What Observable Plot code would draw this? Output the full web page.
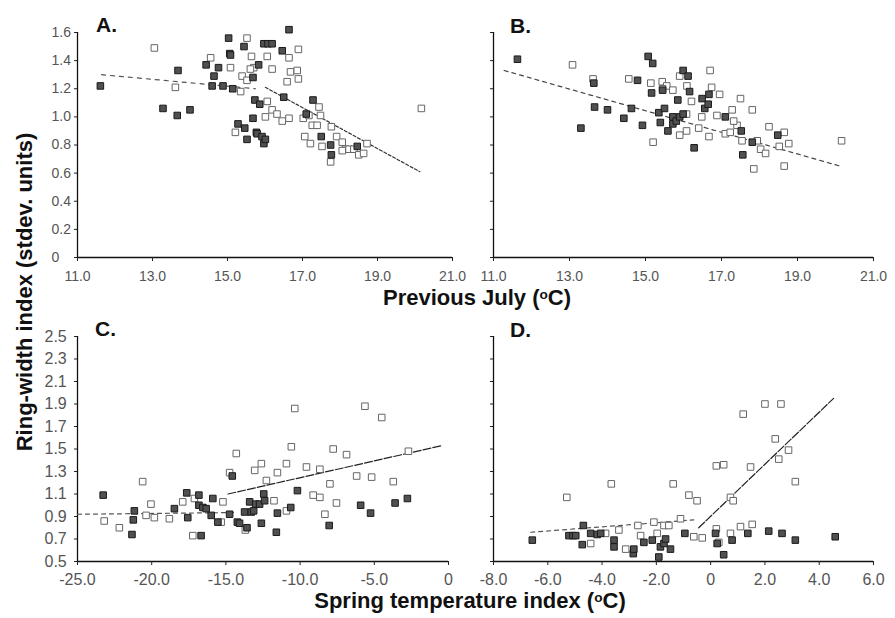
<!DOCTYPE html>
<html><head><meta charset="utf-8">
<script src="https://cdn.jsdelivr.net/npm/d3@7"></script>
<script src="https://cdn.jsdelivr.net/npm/@observablehq/plot@0.6"></script>
<style>
body{margin:0;background:#fff;}
#wrap{position:relative;width:895px;height:618px;overflow:hidden;background:#fff;font-family:"Liberation Sans",Arial,sans-serif;}
#wrap svg{position:absolute;}
.t{position:absolute;font-weight:bold;color:#111;white-space:nowrap;line-height:1;font-family:"Liberation Sans",Arial,sans-serif;}
.t sup{font-size:0.62em;vertical-align:0.45em;line-height:0;}
</style></head><body><div id="wrap"></div>
<script>
// ---------- Panel A: previous July (group 1 filled, group 2 open) ----------
const aFilledX = [11.61,13.68,13.28,13.66,14.00,14.43,14.64,14.59,14.76,14.88,15.03,15.06,15.08,15.14,15.28,15.44,15.46,15.52,15.68,15.68,15.73,15.77,15.86,15.79,15.92,15.97,16.01,15.97,16.08,16.19,15.83,16.50,16.46,16.64,17.28,17.10,17.50,17.75,17.77,18.46];
const aFilledY = [1.22,1.33,1.06,1.01,1.05,1.37,1.29,1.22,1.35,1.22,1.56,1.45,1.44,1.20,0.95,1.50,0.92,0.84,0.99,1.28,1.12,0.89,1.09,0.88,0.86,0.81,0.84,1.52,1.52,1.52,1.37,1.14,1.47,1.62,1.12,1.02,0.86,0.80,0.73,0.79];
const aOpenX = [13.05,13.61,14.55,15.08,15.52,15.39,15.52,15.35,15.21,15.64,15.70,15.61,16.06,16.19,16.06,16.01,16.19,16.32,16.46,16.64,16.59,16.68,16.86,16.89,16.89,16.64,17.02,17.17,17.26,17.39,17.44,17.48,17.06,17.21,17.52,17.77,17.75,17.91,18.06,18.15,18.24,18.06,18.37,18.50,18.63,18.72,20.17];
const aOpenY = [1.49,1.21,1.42,1.35,1.56,1.29,1.26,1.18,0.89,1.43,1.35,1.34,1.43,1.34,1.11,1.00,1.05,1.02,0.97,0.99,1.25,1.32,1.33,1.48,1.27,1.42,0.99,1.01,0.94,0.94,1.07,1.01,0.86,0.81,0.79,0.93,0.68,0.86,0.82,0.77,0.77,0.76,0.77,0.73,0.74,0.81,1.06];
const aLine1X = [11.64, 15.75], aLine1Y = [1.30, 1.20];
const aLine2X = [16.01, 20.13], aLine2Y = [1.21, 0.61];

// ---------- Panel B ----------
const bFilledX = [11.63,13.30,13.66,14.00,13.64,14.43,14.63,14.79,14.92,15.07,15.19,15.16,15.35,15.39,15.50,15.45,15.59,15.72,15.72,15.81,15.85,15.90,15.99,15.99,16.12,16.16,16.28,16.49,16.56,16.67,16.65,17.10,17.56,17.52,17.81,18.48];
const bFilledY = [1.41,0.92,1.07,1.05,1.24,0.99,1.06,1.26,0.94,1.43,1.38,1.17,1.03,0.96,1.06,1.19,0.90,1.00,0.95,0.97,1.12,1.00,1.02,1.33,1.29,1.18,0.78,1.13,1.06,1.16,1.09,1.00,0.73,0.90,0.82,0.87];
const bOpenX = [13.08,13.62,14.56,15.14,15.20,15.44,15.56,15.45,15.72,15.90,16.09,16.21,16.08,16.08,15.90,16.48,16.70,16.74,16.95,16.67,16.40,16.88,17.28,17.50,17.81,17.10,17.23,17.41,17.54,17.94,17.85,18.03,18.16,18.25,18.52,18.65,18.77,18.65,20.16,17.32];
const bOpenY = [1.37,1.27,1.27,1.24,0.82,1.25,1.22,1.20,1.19,1.29,1.22,1.11,1.02,0.90,0.87,1.00,1.33,1.21,1.16,0.86,0.92,1.01,1.05,1.13,1.05,0.88,0.89,0.94,0.83,0.83,0.63,0.77,0.74,0.93,0.79,0.65,0.81,0.89,0.83,0.97];
const bLineX = [11.28, 20.12], bLineY = [1.33, 0.65];

// ---------- Panel C: spring temperature index ----------
const cFilledX = [-23.27,-21.17,-21.24,-21.33,-18.47,-17.64,-17.57,-16.82,-16.82,-16.67,-16.55,-16.33,-15.88,-15.99,-15.54,-14.57,-14.75,-14.23,-14.08,-13.74,-13.58,-13.40,-13.29,-13.13,-12.99,-12.73,-12.61,-12.45,-12.39,-11.53,-11.60,-10.63,-10.18,-8.04,-5.92,-5.25,-3.60,-2.77];
const cFilledY = [1.09,0.95,0.87,0.74,0.97,1.11,0.89,1.09,1.00,0.73,0.98,0.97,1.06,0.91,0.85,1.26,0.92,0.85,0.84,0.94,0.80,1.03,0.94,0.95,1.01,1.01,0.84,1.10,1.04,0.93,0.76,0.98,1.13,0.82,1.00,0.93,1.02,1.06];
const cOpenX = [-23.20,-22.18,-20.61,-20.05,-20.38,-19.82,-18.81,-17.91,-17.23,-17.12,-15.32,-15.20,-14.75,-14.30,-13.69,-12.61,-13.06,-12.27,-11.76,-11.53,-10.92,-10.92,-10.59,-10.36,-9.57,-9.12,-8.67,-8.67,-7.99,-7.77,-8.33,-7.55,-6.87,-6.19,-5.63,-5.18,-4.50,-3.72,-2.70];
const cOpenY = [0.86,0.80,1.21,1.01,0.91,0.89,0.88,1.03,0.73,1.06,0.85,1.03,1.29,1.46,0.78,1.37,1.31,1.22,1.04,1.29,1.37,0.95,1.52,1.86,1.34,1.09,1.32,1.07,1.19,1.50,0.92,1.02,1.45,1.26,1.88,1.25,1.78,1.21,1.48];
const cLine1X = [-25.0, -14.4], cLine1Y = [0.92, 0.935];
const cLine2X = [-14.86, -0.45], cLine2Y = [1.10, 1.53];

// ---------- Panel D ----------
const dFilledX = [-6.57,-5.22,-5.07,-4.97,-4.69,-4.73,-4.42,-4.18,-4.05,-3.56,-3.56,-2.85,-2.83,-2.46,-2.15,-1.91,-1.85,-1.72,-1.66,-1.48,-0.95,0.18,0.24,0.48,0.79,1.37,2.14,2.63,3.12,4.59];
const dFilledY = [0.69,0.73,0.73,0.73,0.82,0.65,0.75,0.74,0.75,0.69,0.63,0.57,0.61,0.67,0.69,0.54,0.63,0.66,0.70,0.61,0.75,0.75,0.66,0.56,0.69,0.75,0.77,0.75,0.69,0.72];
const dOpenX = [-5.30,-3.66,-2.68,-2.58,-2.09,-1.97,-1.72,-1.54,-3.13,-3.38,-3.87,-4.42,-1.38,-0.80,-0.50,-1.11,-0.62,-0.31,0.21,0.21,0.48,0.30,0.73,0.73,0.83,1.10,1.53,1.47,1.20,2.00,2.59,2.38,2.51,2.87,3.12];
const dOpenY = [1.07,1.19,0.82,0.73,0.85,0.75,0.82,0.82,0.61,0.78,0.75,0.66,1.19,1.09,1.04,0.88,0.72,0.71,0.79,1.35,1.36,0.67,0.75,1.07,1.04,0.81,0.83,1.34,1.81,1.90,1.90,1.59,1.41,1.49,1.21];
const dLine1X = [-6.63, -0.62], dLine1Y = [0.76, 0.87];
const dLine2X = [-0.44, 4.53], dLine2Y = [0.80, 1.95];

// ---------- ticks ----------
const julyTicks = [11, 13, 15, 17, 19, 21];
const julyYTicks = [0, 0.2, 0.4, 0.6, 0.8, 1.0, 1.2, 1.4, 1.6];
const springCTicks = [-25, -20, -15, -10, -5, 0];
const springDTicks = [-8, -6, -4, -2, 0, 2, 4, 6];
const springYTicks = [0.5, 0.7, 0.9, 1.1, 1.3, 1.5, 1.7, 1.9, 2.1, 2.3, 2.5];

const pts = (xs, ys) => xs.map((x, i) => ({x, y: ys[i]}));
const fmt1 = d => d === 0 ? "0" : d.toFixed(1);

function panel(o) {
  const marks = [
    Plot.ruleX([o.xDomain[0]], {stroke: "#111", strokeWidth: 1.3}),
    Plot.ruleY([o.yDomain[0]], {stroke: "#111", strokeWidth: 1.3}),
    Plot.axisX({ticks: o.xTicks, tickFormat: fmt1, tickSize: 4, tickPadding: o.xPad, stroke: "#222", fill: "#555", fontSize: o.fs, label: null}),
    Plot.axisY({ticks: o.yTicks, tickFormat: o.yLabels ? fmt1 : () => "", tickSize: 3, tickPadding: o.yPad, textAnchor: "start", stroke: "#222", fill: "#555", fontSize: o.fs, label: null}),
    ...o.lines.map(l => Plot.line(pts(l.x, l.y), {x: "x", y: "y", stroke: l.stroke, strokeWidth: 1.2, strokeDasharray: l.dash})),
    Plot.dot(pts(o.openX, o.openY), {x: "x", y: "y", symbol: "square", r: 3.7, fill: "white", stroke: "#666", strokeWidth: 1}),
    Plot.dot(pts(o.filledX, o.filledY), {x: "x", y: "y", symbol: "square", r: 3.7, fill: "#505050", stroke: "#1a1a1a", strokeWidth: 1})
  ];
  const svg = Plot.plot({
    width: o.width, height: o.height,
    marginLeft: o.ml, marginRight: o.mr, marginTop: o.mt, marginBottom: o.mb,
    x: {domain: o.xDomain, label: null}, y: {domain: o.yDomain, label: null},
    style: {background: "transparent", overflow: "visible", fontFamily: "'Liberation Sans', Arial, sans-serif", fontSize: o.fs + "px"},
    marks
  });
  svg.style.left = o.left + "px";
  svg.style.top = o.top + "px";
  return svg;
}

const wrap = document.getElementById("wrap");
wrap.appendChild(panel({left: 0, top: 0, width: 460, height: 290, ml: 77, mr: 8, mt: 32, mb: 33,
  xDomain: [11, 21], yDomain: [0, 1.6], xTicks: julyTicks, yTicks: julyYTicks, yLabels: true,
  xPad: 10, yPad: 23, fs: 14,
  filledX: aFilledX, filledY: aFilledY, openX: aOpenX, openY: aOpenY,
  lines: [{x: aLine1X, y: aLine1Y, stroke: "#555", dash: "4,5"}, {x: aLine2X, y: aLine2Y, stroke: "#333", dash: "3,2"}]}));
wrap.appendChild(panel({left: 440, top: 0, width: 455, height: 290, ml: 53, mr: 22, mt: 32, mb: 33,
  xDomain: [11, 21], yDomain: [0, 1.6], xTicks: julyTicks, yTicks: julyYTicks, yLabels: false,
  xPad: 10, yPad: 23, fs: 14,
  filledX: bFilledX, filledY: bFilledY, openX: bOpenX, openY: bOpenY,
  lines: [{x: bLineX, y: bLineY, stroke: "#444", dash: "4,4"}]}));
wrap.appendChild(panel({left: 0, top: 300, width: 460, height: 300, ml: 77, mr: 12, mt: 36, mb: 39,
  xDomain: [-25, 0], yDomain: [0.5, 2.5], xTicks: springCTicks, yTicks: springYTicks, yLabels: true,
  xPad: 8, yPad: 30, fs: 16,
  filledX: cFilledX, filledY: cFilledY, openX: cOpenX, openY: cOpenY,
  lines: [{x: cLine1X, y: cLine1Y, stroke: "#555", dash: "4,4"}, {x: cLine2X, y: cLine2Y, stroke: "#222", dash: "8,2"}]}));
wrap.appendChild(panel({left: 440, top: 300, width: 455, height: 300, ml: 53, mr: 22, mt: 36, mb: 39,
  xDomain: [-8, 6], yDomain: [0.5, 2.5], xTicks: springDTicks, yTicks: springYTicks, yLabels: false,
  xPad: 8, yPad: 30, fs: 16,
  filledX: dFilledX, filledY: dFilledY, openX: dOpenX, openY: dOpenY,
  lines: [{x: dLine1X, y: dLine1Y, stroke: "#555", dash: "4,4"}, {x: dLine2X, y: dLine2Y, stroke: "#222", dash: "8,2"}]}));

function addText(html, css) {
  const d = document.createElement("div");
  d.className = "t";
  d.innerHTML = html;
  Object.assign(d.style, css);
  wrap.appendChild(d);
  return d;
}
addText("A.", {left: "96px", top: "14px", fontSize: "21px"});
addText("B.", {left: "510px", top: "15px", fontSize: "21px"});
addText("C.", {left: "95px", top: "318px", fontSize: "21px"});
addText("D.", {left: "510px", top: "319px", fontSize: "21px"});
addText("Previous July (<sup>o</sup>C)", {left: "477px", top: "287px", fontSize: "22px", transform: "translateX(-50%)"});
addText("Spring temperature index (<sup>o</sup>C)", {left: "470px", top: "590px", fontSize: "22px", transform: "translateX(-50%)"});
addText("Ring-width index (stdev. units)", {left: "25px", top: "292px", fontSize: "22px", transform: "translate(-50%,-50%) rotate(-90deg)"});
</script>
</body></html>
